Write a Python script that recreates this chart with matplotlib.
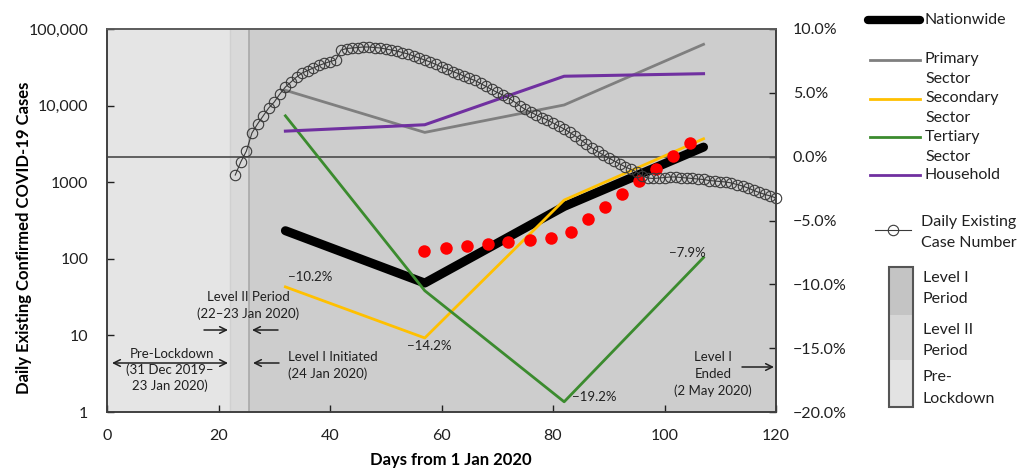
import matplotlib
matplotlib.use("Agg")
import matplotlib.pyplot as plt
import matplotlib.ticker as mticker
from matplotlib.lines import Line2D
from matplotlib.patches import Rectangle

W, H = 1026, 470
plt.rcParams['font.family'] = ['Lato', 'DejaVu Sans']

# ---------------- data ----------------
sector_days = [32, 57, 82, 107]
nationwide = [-5.8, -9.9, -3.9, 0.75]
primary = [5.2, 1.9, 4.05, 8.8]
secondary = [-10.2, -14.2, -3.4, 1.4]
tertiary = [3.2, -10.5, -19.2, -7.9]
household = [2.0, 2.5, 6.3, 6.5]

red_days = [56.9, 60.8, 64.5, 68.3, 72.0, 75.9, 79.7, 83.2, 86.3, 89.4, 92.4, 95.4, 98.5, 101.6, 104.6]
red_pct = [-7.37, -7.18, -7.0, -6.86, -6.71, -6.53, -6.35, -5.92, -4.91, -3.94, -2.94, -1.93, -0.97, 0.03, 1.05]

case_values = [1240, 1840, 2550, 4390, 5750, 7310, 9300, 11140, 14170, 17490,
               20320, 23620, 26650, 28710, 30970, 33420, 35480, 37630, 39370, 53200,
               55630, 56500, 57300, 58200, 58200, 57300, 56500, 54800, 53200, 51600,
               49300, 47200, 44400, 41800, 39370, 37080, 34400, 31900, 30050, 27870,
               26240, 24340, 22590, 21280, 19440, 17760, 16230, 14830, 13750, 12570,
               11320, 10030, 8900, 8250, 7540, 6990, 6490, 5930, 5420, 4950,
               4460, 4010, 3560, 3150, 2790, 2520, 2270, 2070, 1890, 1730,
               1580, 1465, 1360, 1205, 1135, 1118, 1135, 1150, 1170, 1170,
               1150, 1135, 1118, 1100, 1085, 1052, 1037, 1021, 1006, 977,
               933, 892, 840, 780, 734, 691, 661, 622]
case_days = list(range(23, 23 + len(case_values)))

periods = [(0, 22, '#e5e5e5'), (22, 25.5, '#d9d9d9'), (25.5, 120, '#cdcdcd')]

left_ticks = [1, 10, 100, 1000, 10000, 100000]
left_labels = ['1', '10', '100', '1000', '10,000', '100,000']
right_ticks = [-20, -15, -10, -5, 0, 5, 10]
x_ticks = [0, 20, 40, 60, 80, 100, 120]

# ---------------- figure ----------------
fig = plt.figure(figsize=(W / 100, H / 100), dpi=100)
ax = fig.add_axes([107 / W, 1 - 412 / H, (776 - 107) / W, (412 - 29) / H])
ax2 = ax.twinx()

for a, b, c in periods:
    ax2.axvspan(a, b, color=c, lw=0, zorder=0)
ax2.axvline(22, color='#d0d0d0', lw=1, zorder=1)
ax2.axvline(25.5, color='#a8a8a8', lw=1.2, zorder=1)
ax2.axhline(0, color='#555555', lw=1.3, zorder=2)

ax2.plot(sector_days, nationwide, color='black', lw=6.5, solid_capstyle='round', zorder=3)
ax2.plot(sector_days, primary, color='#7f7f7f', lw=2, zorder=4)
ax2.plot(sector_days, secondary, color='#ffc000', lw=2, zorder=4)
ax2.plot(sector_days, tertiary, color='#3b8b2e', lw=2, zorder=4)
ax2.plot(sector_days, household, color='#7030a0', lw=2.2, zorder=4)
ax2.plot(red_days, red_pct, 'o', color='#ff0000', ms=9, mec='none', zorder=5)

ax.set_zorder(ax2.get_zorder() + 1)
ax.patch.set_visible(False)
ax.plot(case_days, case_values, '-o', color='#3a3a3a', lw=0.8, ms=7.5,
        mfc='none', mec='#3a3a3a', mew=0.8, clip_on=False)

ax.set_xlim(0, 120)
ax.set_yscale('log')
ax.set_ylim(1, 100000)
ax.yaxis.set_major_locator(mticker.FixedLocator(left_ticks))
ax.yaxis.set_minor_locator(mticker.NullLocator())
ax.set_yticklabels(left_labels)
ax.set_xticks(x_ticks)
ax2.set_ylim(-20, 10)
ax2.set_yticks(right_ticks)
ax2.set_yticklabels([f"{t:.1f}%".replace('-', '\u2212') for t in right_ticks])

for a in (ax, ax2):
    for s in a.spines.values():
        s.set_color('#404040')
        s.set_linewidth(1.2)
ax.spines['top'].set_color('#606060')
ax.tick_params(axis='y', direction='in', length=5, width=1, pad=13.5, labelsize=11.5, colors='#202020')
ax.tick_params(axis='x', direction='in', length=5, width=1, pad=12, labelsize=11.5, colors='#202020')
ax2.tick_params(axis='y', direction='in', length=5, width=1, pad=12, labelsize=11.5, colors='#202020')

fig.text(24 / W, 1 - 238 / H, 'Daily Existing Confirmed COVID-19 Cases', rotation=90,
         ha='center', va='center', fontsize=12, fontweight='bold')
fig.text(451 / W, 1 - 460 / H, 'Days from 1 Jan 2020', ha='center', va='center',
         fontsize=12, fontweight='bold')


def ftxt(x, y, s, ha='center', size=9.5, **kw):
    fig.text(x / W, 1 - y / H, s, ha=ha, va='center', fontsize=size, color='#202020', **kw)


def farrow(x0, y0, x1, y1, style='->'):
    ax.annotate('', xy=(x1, H - y1), xytext=(x0, H - y0), xycoords='figure pixels',
                textcoords='figure pixels',
                arrowprops=dict(arrowstyle=style, color='#202020', lw=1.1,
                                shrinkA=0, shrinkB=0, mutation_scale=12))


ftxt(310, 277, '\u221210.2%')
ftxt(429, 346, '\u221214.2%')
ftxt(594, 397, '\u221219.2%')
ftxt(687, 253, '\u22127.9%')

ftxt(248, 297, 'Level II Period')
ftxt(248, 314, '(22\u201323 Jan 2020)')
farrow(204, 330, 228, 330)
farrow(278, 330, 252, 330)
ftxt(172, 354, 'Pre-Lockdown')
farrow(112, 363, 228, 363, style='<->')
ftxt(170, 370, '(31 Dec 2019\u2013')
ftxt(170, 386, '23 Jan 2020)')
farrow(279, 363, 253, 363)
ftxt(288, 357, 'Level I Initiated', ha='left')
ftxt(288, 374, '(24 Jan 2020)', ha='left')
ftxt(713, 357, 'Level I')
ftxt(713, 374, 'Ended')
ftxt(713, 391, '(2 May 2020)')
farrow(742, 367, 774, 367)


def fline(x0, x1, y, **kw):
    fig.add_artist(Line2D([x0 / W, x1 / W], [1 - y / H, 1 - y / H], transform=fig.transFigure, **kw))


lx = 925
fline(868, 920, 20, color='black', lw=6, solid_capstyle='round')
ftxt(lx, 20, 'Nationwide', ha='left', size=11.5)
fline(870, 920, 60, color='#7f7f7f', lw=2)
ftxt(lx, 59, 'Primary', ha='left', size=11.5)
ftxt(lx, 79, 'Sector', ha='left', size=11.5)
fline(870, 920, 99, color='#ffc000', lw=2)
ftxt(lx, 98, 'Secondary', ha='left', size=11.5)
ftxt(lx, 118, 'Sector', ha='left', size=11.5)
fline(870, 920, 137, color='#3b8b2e', lw=2)
ftxt(lx, 137, 'Tertiary', ha='left', size=11.5)
ftxt(lx, 157, 'Sector', ha='left', size=11.5)
fline(870, 920, 175, color='#7030a0', lw=2)
ftxt(lx, 175, 'Household', ha='left', size=11.5)
fig.add_artist(Line2D([875 / W, 911 / W], [1 - 230 / H, 1 - 230 / H], transform=fig.transFigure,
                      color='#3a3a3a', lw=0.8))
fig.add_artist(Line2D([893 / W], [1 - 230 / H], transform=fig.transFigure, marker='o', ms=7.5,
                      mfc='none', mec='#3a3a3a', mew=0.8, lw=0))
ftxt(921, 222, 'Daily Existing', ha='left', size=11.5)
ftxt(921, 243, 'Case Number', ha='left', size=11.5)

bx0, bx1 = 889, 913
segs = [(267, 315, '#c4c4c4'), (315, 360, '#d6d6d6'), (360, 407, '#e3e3e3')]
for y0, y1, c in segs:
    fig.add_artist(Rectangle((bx0 / W, 1 - y1 / H), (bx1 - bx0) / W, (y1 - y0) / H,
                             transform=fig.transFigure, facecolor=c, edgecolor='none'))
fig.add_artist(Rectangle((bx0 / W, 1 - 407 / H), (bx1 - bx0) / W, (407 - 267) / H,
                         transform=fig.transFigure, facecolor='none', edgecolor='#555555', lw=1.5))
ftxt(923, 278, 'Level I', ha='left', size=11.5)
ftxt(923, 299, 'Period', ha='left', size=11.5)
ftxt(923, 330, 'Level II', ha='left', size=11.5)
ftxt(923, 351, 'Period', ha='left', size=11.5)
ftxt(923, 377, 'Pre-', ha='left', size=11.5)
ftxt(923, 399, 'Lockdown', ha='left', size=11.5)

fig.savefig('out.png', dpi=100)
